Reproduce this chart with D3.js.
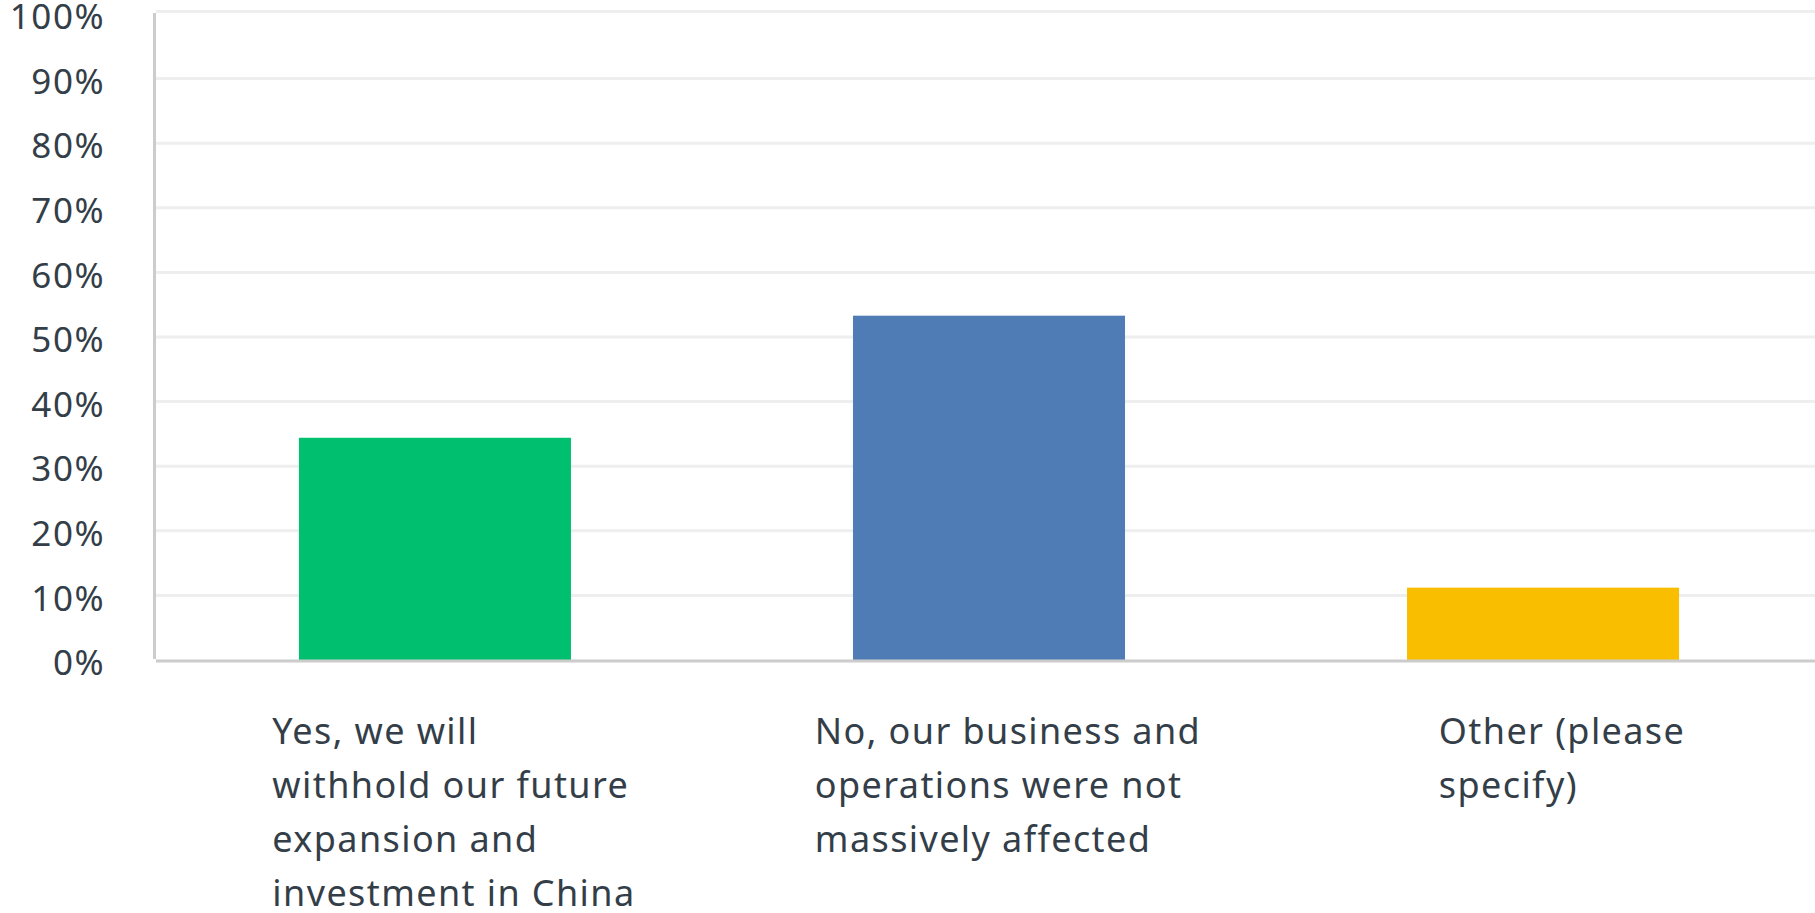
<!DOCTYPE html>
<html>
<head>
<meta charset="utf-8">
<script src="https://cdn.jsdelivr.net/npm/d3@7"></script>
<style>
  html, body { margin: 0; padding: 0; background: #ffffff; }
  svg { display: block; }
  text { font-family: "Noto Sans", "Open Sans", sans-serif; fill: #333e48; }
</style>
</head>
<body>
<svg id="chart" width="1815" height="913"></svg>
<script>
const categories = ["yes", "no", "other"];
const categoryLines = [
  ["Yes, we will", "withhold our future", "expansion and", "investment in China"],
  ["No, our business and", "operations were not", "massively affected"],
  ["Other (please", "specify)"]
];
const values = [34.4, 53.3, 11.2];
const colors = ["#00bf6f", "#507cb6", "#f9be00"];
const tickValues = [0, 10, 20, 30, 40, 50, 60, 70, 80, 90, 100];
const tickLabels = ["0%", "10%", "20%", "30%", "40%", "50%", "60%", "70%", "80%", "90%", "100%"];

const svg = d3.select("#chart");
const W = 1815, H = 913;
const plotLeft = 156, plotRight = 1822;
const y = d3.scaleLinear().domain([0, 100]).range([660, 14]);
const x = d3.scaleBand().domain(categories).range([plotLeft, plotRight])
  .paddingInner(0.509).paddingOuter(0.258);

// gridlines
svg.append("g").selectAll("line").data(tickValues.filter(d => d > 0)).join("line")
  .attr("x1", plotLeft).attr("x2", W)
  .attr("y1", d => d === 100 ? y(d) - 2.5 : y(d)).attr("y2", d => d === 100 ? y(d) - 2.5 : y(d))
  .attr("stroke", "#eeeeee").attr("stroke-width", 3);

// bars
svg.append("g").selectAll("rect").data(values).join("rect")
  .attr("x", (d, i) => x(categories[i]))
  .attr("width", x.bandwidth())
  .attr("y", d => y(d))
  .attr("height", d => y(0) - y(d))
  .attr("fill", (d, i) => colors[i]);

// y axis
const yAxis = d3.axisLeft(y).tickValues(tickValues)
  .tickFormat((d, i) => tickLabels[i]).tickSize(0).tickPadding(0);
const gy = svg.append("g").attr("transform", "translate(105,0)").call(yAxis);
gy.select(".domain").remove();
gy.selectAll(".tick text")
  .attr("font-family", "Noto Sans, sans-serif")
  .attr("font-size", 35).attr("fill", "#333e48").attr("dy", "0.42em")
  .attr("letter-spacing", 1.5);

// axis lines
svg.append("line").attr("x1", 154.5).attr("x2", 154.5).attr("y1", 13).attr("y2", 659)
  .attr("stroke", "#cccccc").attr("stroke-width", 3);
svg.append("line").attr("x1", 156).attr("x2", W).attr("y1", 661).attr("y2", 661)
  .attr("stroke", "#cccccc").attr("stroke-width", 3);

// category labels
const lineH = 54;
const labels = svg.append("g").selectAll("text").data(categoryLines).join("text")
  .attr("font-size", 36).attr("letter-spacing", 1.4)
  .attr("y", 744);
labels.each(function(lines, i) {
  const t = d3.select(this);
  lines.forEach((l, j) => {
    t.append("tspan").attr("dy", j === 0 ? 0 : lineH).text(l);
  });
  const tspans = t.selectAll("tspan").nodes();
  const maxW = d3.max(tspans, n => n.getComputedTextLength());
  const left = x(categories[i]) + x.bandwidth() / 2 + 19 - maxW / 2;
  t.selectAll("tspan").attr("x", left);
});
</script>
</body>
</html>
